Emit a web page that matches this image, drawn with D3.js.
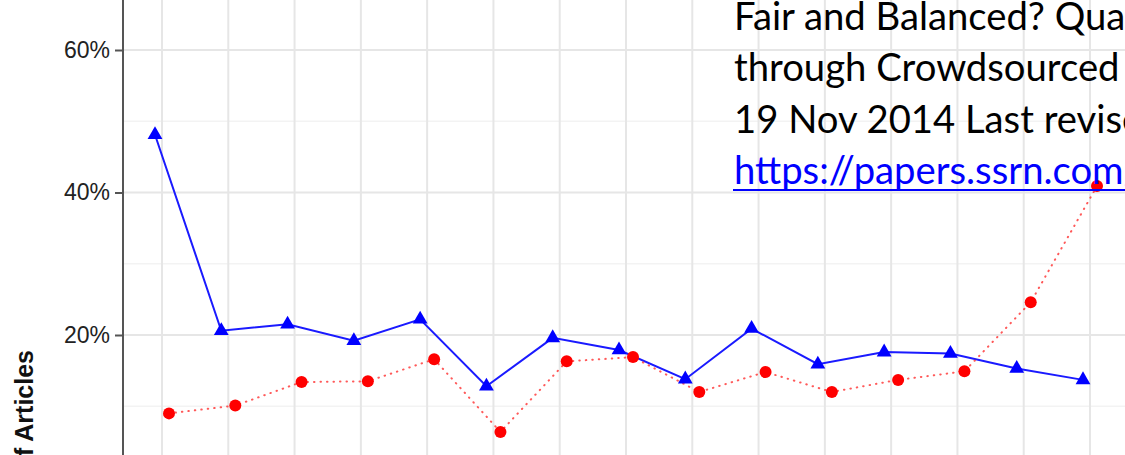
<!DOCTYPE html>
<html>
<head>
<meta charset="utf-8">
<script src="https://cdn.jsdelivr.net/npm/d3@7"></script>
<style>
  body { margin: 0; background: #fff; overflow: hidden; }
  svg { display: block; }
</style>
</head>
<body>
<svg id="chart" width="1125" height="455"></svg>
<script>
// categories along the (cropped) x axis
let categories = ['1', '2', '3', '4', '5', '6', '7', '8', '9', '10', '11', '12', '13', '14', '15'];

// blue series (triangles, solid line)
let blueValues = [0.481, 0.206, 0.215, 0.192, 0.222, 0.128, 0.196, 0.179, 0.138, 0.209, 0.159, 0.176, 0.174, 0.153, 0.137];

// red series (circles, dotted line)
let redValues = [0.090, 0.101, 0.134, 0.135, 0.166, 0.064, 0.163, 0.169, 0.120, 0.148, 0.120, 0.137, 0.149, 0.246, 0.409];

let majorTicks = [0.2, 0.4, 0.6];
let minorTicks = [0.1, 0.3, 0.5, 0.7];

let noteLines = [
    'Fair and Balanced? Quantifying Media Bias',
    'through Crowdsourced Content Analysis',
    '19 Nov 2014 Last revised',
    'https://papers.ssrn.com/sol3/papers.cfm'
];

let yTitle = '% of Articles';

let width = 1125;
let height = 455;
let axisX = 123;
let dodge = 7;

let svg = d3.select('#chart');

let x = d3.scalePoint()
    .domain(categories)
    .range([162, 1090]);

let y = d3.scaleLinear()
    .domain([0, 0.6])
    .range([477.5, 50]);

//gridlines
let grid = svg.append('g').attr('class', 'grid');

grid.selectAll('.minor')
    .data(minorTicks)
    .enter()
    .append('line')
    .attr('x1', axisX)
    .attr('x2', width)
    .attr('y1', d => y(d))
    .attr('y2', d => y(d))
    .attr('stroke', '#f3f3f3')
    .attr('stroke-width', 1.5);

grid.selectAll('.major')
    .data(majorTicks)
    .enter()
    .append('line')
    .attr('x1', axisX)
    .attr('x2', width)
    .attr('y1', d => y(d))
    .attr('y2', d => y(d))
    .attr('stroke', '#e6e6e6')
    .attr('stroke-width', 2);

grid.selectAll('.vert')
    .data(categories)
    .enter()
    .append('line')
    .attr('x1', d => x(d))
    .attr('x2', d => x(d))
    .attr('y1', 0)
    .attr('y2', height)
    .attr('stroke', '#e6e6e6')
    .attr('stroke-width', 2);

//y axis
let yAxis = d3.axisLeft(y)
    .tickValues(majorTicks)
    .tickSize(8)
    .tickPadding(5)
    .tickFormat(d3.format('.0%'));

let axisG = svg.append('g')
    .attr('transform', `translate(${axisX},0)`)
    .call(yAxis);

axisG.select('.domain')
    .attr('d', `M0,0V${height}`)
    .attr('stroke', '#555')
    .attr('stroke-width', 2);

axisG.selectAll('.tick line')
    .attr('stroke', '#555')
    .attr('stroke-width', 2);

axisG.selectAll('.tick text')
    .attr('font-family', 'Liberation Sans, Arial, sans-serif')
    .attr('font-size', 23)
    .attr('fill', '#222');

svg.append('text')
    .attr('transform', `translate(33,350) rotate(-90)`)
    .attr('text-anchor', 'end')
    .attr('font-family', 'Liberation Sans, Arial, sans-serif')
    .attr('font-weight', 'bold')
    .attr('font-size', 25)
    .attr('fill', '#111')
    .text(yTitle);

//lines
let blueLine = d3.line()
    .x((d, i) => x(categories[i]) - dodge)
    .y(d => y(d));

let redLine = d3.line()
    .x((d, i) => x(categories[i]) + dodge)
    .y(d => y(d));

svg.append('path')
    .datum(blueValues)
    .attr('d', blueLine)
    .attr('fill', 'none')
    .attr('stroke', '#1a1aff')
    .attr('stroke-width', 2);

svg.append('path')
    .datum(redValues)
    .attr('d', redLine)
    .attr('fill', 'none')
    .attr('stroke', '#ff3030')
    .attr('stroke-opacity', 0.8)
    .attr('stroke-width', 2)
    .attr('stroke-linecap', 'round')
    .attr('stroke-dasharray', '0.5,6');

//points
let tri = d3.symbol().type(d3.symbolTriangle).size(95);

svg.selectAll('.tri')
    .data(blueValues)
    .enter()
    .append('path')
    .attr('d', tri)
    .attr('transform', (d, i) => `translate(${x(categories[i]) - dodge},${y(d)})`)
    .attr('fill', '#0000ff');

svg.selectAll('.dot')
    .data(redValues)
    .enter()
    .append('circle')
    .attr('cx', (d, i) => x(categories[i]) + dodge)
    .attr('cy', d => y(d))
    .attr('r', 6)
    .attr('fill', '#ff0000');

//overlayed citation text
let noteX = 734;
let baselines = [29.5, 81, 132.5, 184];

let note = svg.append('g')
    .attr('font-family', 'Lato, Carlito, Calibri, sans-serif')
    .attr('font-size', 40);

// fit the substitute font to the width of the original Calibri text
let probe = note.append('text').text('19 Nov 2014 Last');
let fs = 40 * 300 / probe.node().getComputedTextLength();
probe.remove();
note.attr('font-size', fs);

noteLines.forEach(function(t, i){
    note.append('text')
        .attr('x', noteX)
        .attr('y', baselines[i])
        .attr('fill', i === 3 ? '#0000ff' : '#000')
        .text(t);
});

svg.append('line')
    .attr('x1', noteX - 1)
    .attr('x2', width)
    .attr('y1', 190)
    .attr('y2', 190)
    .attr('stroke', '#0000ff')
    .attr('stroke-width', 2);
</script>
</body>
</html>
